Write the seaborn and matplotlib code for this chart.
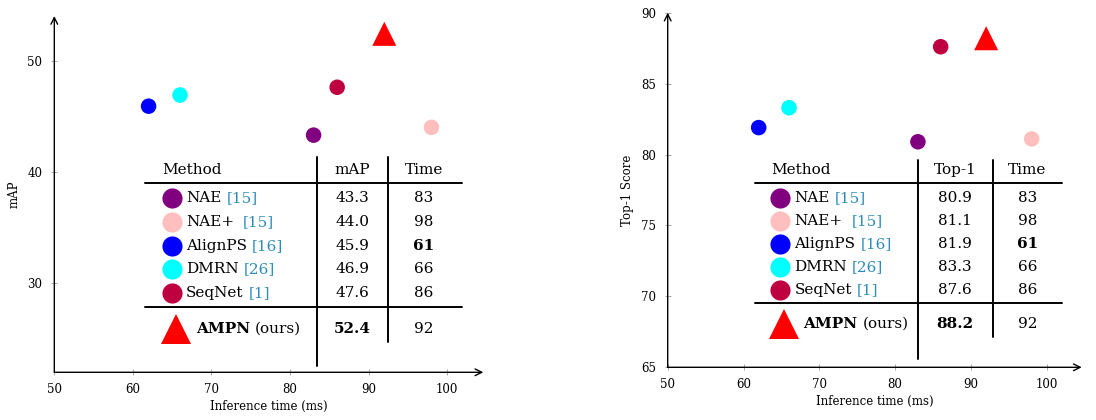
import matplotlib
matplotlib.use("Agg")
import matplotlib.pyplot as plt
import seaborn as sns
import pandas as pd
from matplotlib.lines import Line2D

# ---------------- data ----------------
methods = ["NAE", "NAE+", "AlignPS", "DMRN", "SeqNet", "AMPN"]
labels = ["NAE", "NAE+", "AlignPS", "DMRN", "SeqNet", "AMPN"]
cites = ["[15]", "[15]", "[16]", "[26]", "[1]", "(ours)"]
plot_times = [83, 98, 62, 66, 86, 92]      # x positions of the markers
table_times = [83, 98, 61, 66, 86, 92]     # values written in the table
map_vals = [43.3, 44.0, 45.9, 46.9, 47.6, 52.4]
top1_vals = [80.9, 81.1, 81.9, 83.3, 87.6, 88.2]
colors = ["#800080", "#FFBFBF", "#0000FF", "#00FFFF", "#BF0040", "#FF0000"]
markers = ["o", "o", "o", "o", "o", "^"]
x_ticks = [50, 60, 70, 80, 90, 100]
map_ticks = [30, 40, 50]
top1_ticks = [65, 70, 75, 80, 85, 90]

sns.set_theme(style="white")
plt.rcParams["font.family"] = ["DejaVu Serif"]
plt.rcParams["text.color"] = "black"
plt.rcParams["axes.labelcolor"] = "black"

W, H = 1096, 420
fig = plt.figure(figsize=(W / 100, H / 100), dpi=100)

def box(x0, x1, ytop, ybot):
    return [x0 / W, 1 - ybot / H, (x1 - x0) / W, (ybot - ytop) / H]

ax1 = fig.add_axes(box(54.3, 483.3, 16, 372.3))
ax2 = fig.add_axes(box(667.7, 1081.7, 12.7, 367.3))

df = pd.DataFrame({"method": methods, "time": plot_times, "mAP": map_vals,
                   "Top-1": top1_vals})
palette = dict(zip(methods, colors))
mk = dict(zip(methods, markers))
sizes = {m: (300 if m == "AMPN" else 125) for m in methods}

def fx(px):
    return px / W

def fy(py):
    return 1 - py / H

def setup(ax, ycol, ylim, yticks, ylabel):
    sns.scatterplot(data=df, x="time", y=ycol, hue="method", palette=palette,
                    style="method", markers=mk, size="method", sizes=sizes,
                    edgecolor="none", legend=False, ax=ax, clip_on=False,
                    zorder=3)
    ax.set_xlim(50, 104.6)
    ax.set_ylim(*ylim)
    ax.set_xticks(x_ticks)
    ax.set_yticks(yticks)
    for s in ax.spines.values():
        s.set_visible(False)
    ax.tick_params(direction="inout", length=5, width=0.6, color="#999999",
                   labelcolor="black", labelsize=8.5, bottom=True, left=True)
    ax.tick_params(axis="x", pad=5)
    ax.tick_params(axis="y", pad=6)
    ax.set_xlabel("Inference time (ms)", fontsize=8.5, labelpad=3)
    ax.set_ylabel(ylabel, fontsize=8.5, labelpad=5)
    ax.set_facecolor("none")
    ax.annotate("", xy=(1, 0), xytext=(0, 0), xycoords="axes fraction",
                arrowprops=dict(arrowstyle="->", lw=1.0, color="black",
                                shrinkA=0, shrinkB=0))
    ax.annotate("", xy=(0, 1), xytext=(0, 0), xycoords="axes fraction",
                arrowprops=dict(arrowstyle="->", lw=1.0, color="black",
                                shrinkA=0, shrinkB=0))

setup(ax1, "mAP", (22.0, 54.0), map_ticks, "mAP")
setup(ax2, "Top-1", (65, 90), top1_ticks, "Top-1 Score")

FS = 11
cite_color = "#2C8DB8"
pending = []

def table(xl, xr, xv1, xv2, yv_top, yv1_bot, yv2_bot, hdr_y, rule1, rows_y,
          rule2, last_y, xm_marker, xm_text, xtri, xtri_text, xc_val, xc_time,
          valcol, valname, xhdr):
    lw = 1.4
    fig.add_artist(Line2D([fx(xl), fx(xr)], [fy(rule1)] * 2, color="black", lw=lw))
    fig.add_artist(Line2D([fx(xl), fx(xr)], [fy(rule2)] * 2, color="black", lw=lw))
    fig.add_artist(Line2D([fx(xv1)] * 2, [fy(yv_top), fy(yv1_bot)], color="black", lw=lw))
    fig.add_artist(Line2D([fx(xv2)] * 2, [fy(yv_top), fy(yv2_bot)], color="black", lw=lw))
    fig.text(fx(xhdr), fy(hdr_y), "Method", fontsize=FS, va="center", ha="left")
    fig.text(fx(xc_val), fy(hdr_y), valname, fontsize=FS, va="center", ha="center")
    fig.text(fx(xc_time), fy(hdr_y), "Time", fontsize=FS, va="center", ha="center")
    for i in range(5):
        y = rows_y[i]
        fig.add_artist(Line2D([fx(xm_marker)], [fy(y)], marker="o", markersize=14.5,
                              color=colors[i], markeredgewidth=0, ls="none"))
        t = fig.text(fx(xm_text), fy(y), labels[i], fontsize=FS, va="center",
                     ha="left")
        gap = 9 if labels[i].endswith("+") else 5
        pending.append((t, fy(y), cites[i], cite_color, gap))
        fig.text(fx(xc_val), fy(y), f"{valcol[i]:.1f}", fontsize=FS,
                 va="center", ha="center")
        fig.text(fx(xc_time), fy(y), str(table_times[i]), fontsize=FS,
                 va="center", ha="center",
                 fontweight="bold" if table_times[i] == min(table_times) else "normal")
    fig.add_artist(Line2D([fx(xtri)], [fy(last_y)], marker="^", markersize=21,
                          color=colors[5], markeredgewidth=0, ls="none"))
    t = fig.text(fx(xtri_text), fy(last_y), labels[5], fontsize=FS, va="center",
                 ha="left", fontweight="bold")
    pending.append((t, fy(last_y), cites[5], "black", 5))
    fig.text(fx(xc_val), fy(last_y), f"{valcol[5]:.1f}", fontsize=FS,
             va="center", ha="center", fontweight="bold")
    fig.text(fx(xc_time), fy(last_y), str(table_times[5]), fontsize=FS,
             va="center", ha="center")

table(145, 462, 317, 388, 157, 366, 342, 170, 183, [198, 222, 246, 269, 293],
      307, 329, 171.7, 186, 176, 196, 352, 424, map_vals, "mAP", 162)
table(755, 1062, 917.7, 992.7, 160, 359, 337, 170, 183.3,
      [198, 221, 244, 267, 290], 303, 324, 780.3, 794.3, 784, 803.3, 955,
      1027.3, top1_vals, "Top-1", 771.7)

fig.canvas.draw()
r = fig.canvas.get_renderer()
for t, y, c, col, gap in pending:
    bb = t.get_window_extent(r)
    fig.text((bb.x1 + gap) / W, y, c, fontsize=FS, va="center", ha="left",
             color=col)

fig.savefig("out.png", dpi=100)
